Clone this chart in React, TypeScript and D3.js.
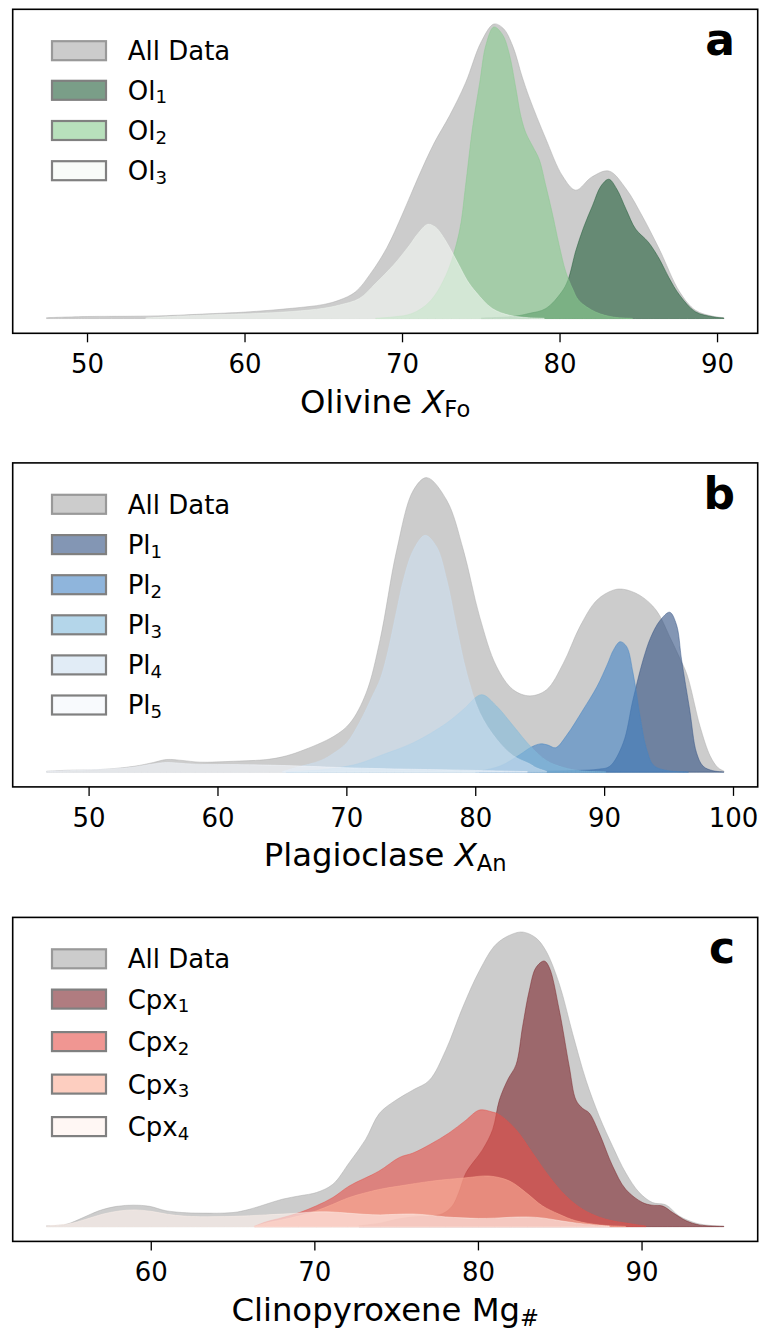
import React from 'react';
import * as d3 from 'd3';

type Pt = [number, number];

// KDE curves: [composition, density], All Data peak = 100

// Olivine X_Fo
const olivineAll: Pt[] = [
  [47.4, 0.3], [50, 0.7], [53, 0.8], [55, 1.0], [58, 1.7], [60, 2.2], [63, 3.5], [65, 4.8], [66, 6.3],
  [67, 9], [68, 15.5], [69, 24], [70, 35.5], [71, 48], [72, 59.5], [73, 69], [74, 80], [75, 94],
  [75.8, 100], [76.4, 98.5], [77, 92.5], [77.6, 82], [78.05, 75], [79.1, 61], [80.16, 48.4], [81, 43.6],
  [82, 48], [83.1, 50.1], [84.2, 44], [85.2, 35], [86.3, 23.6], [87.6, 9], [88.6, 2.8], [89.7, 0.8], [90.4, 0.3],
];
const olivine1: Pt[] = [
  [75, 0.2], [77, 0.7], [78, 1.7], [79.1, 3.4], [80.1, 9], [80.5, 13], [81, 23], [81.5, 31], [82.06, 38.3],
  [82.6, 45], [83.1, 47.3], [83.6, 44], [84.2, 37], [84.8, 30.4], [85.6, 26], [86.3, 20.3], [86.9, 14],
  [87.6, 7.9], [88.6, 2.3], [89.7, 0.6], [90.4, 0.2],
];
const olivine2: Pt[] = [
  [68.3, 0.1], [69.5, 0.6], [70.6, 1.7], [71.7, 5.6], [72.75, 14.6], [73.6, 29.3], [74, 45], [74.45, 65],
  [74.9, 80], [75.3, 93], [75.8, 99], [76.35, 96.4], [76.77, 90], [77.2, 78], [77.5, 69], [77.83, 63],
  [78.26, 58.5], [78.68, 54], [79.1, 45], [79.5, 36], [79.95, 24.8], [80.37, 15.8], [80.8, 10.1],
  [81.2, 6.1], [82.27, 2.2], [83.4, 0.5], [84.6, 0.1],
];
const olivine3: Pt[] = [
  [53.7, 0.2], [55, 0.6], [58, 1.3], [60, 1.6], [63, 2.4], [65, 3.5], [66, 4.6], [67.26, 6.8], [68.3, 12],
  [69.4, 18], [70.43, 24.8], [71, 29], [71.6, 32], [72.1, 31], [72.55, 28], [73.1, 23], [73.6, 18],
  [74.1, 13], [74.66, 9], [75.7, 3.4], [76.8, 1.1], [78, 0.3], [79, 0.1],
];

// Plagioclase X_An
const plagAll: Pt[] = [
  [46.7, 0.3], [48, 0.6], [50.9, 0.9], [53.5, 2.0], [55, 3.3], [56, 4.3], [57.2, 4.0], [58.6, 3.4],
  [61.2, 3.7], [63.8, 4.3], [65, 5.2], [66.4, 7.1], [69, 12.2], [70.25, 16.7], [71.5, 26.9], [72.58, 45],
  [73.87, 75.4], [75.16, 95.7], [76.2, 100], [77.75, 92.3], [79.04, 75.4], [80.3, 52.8], [81.6, 36],
  [82.9, 28], [84.2, 25.9], [85.5, 28], [86.8, 37], [88.08, 49.4], [89.4, 58.4], [90.67, 61.8],
  [91.45, 62.1], [92.74, 60], [94.0, 55], [95.05, 46], [95.8, 39], [96.4, 33], [97.4, 15.6], [98.2, 5.4],
  [98.8, 1.5], [99.25, 0.4],
];
const plag1: Pt[] = [
  [80.3, 0.1], [85, 0.3], [88, 0.6], [89.5, 1.0], [90.4, 2.0], [91.44, 9.9], [92.2, 24.6], [92.99, 38.2],
  [93.6, 46], [94.3, 51.5], [95.05, 54.3], [95.58, 50], [95.97, 38.2], [96.6, 21.2], [97.13, 6.6],
  [97.65, 2.0], [98.4, 0.5], [99.25, 0.1],
];
const plag2: Pt[] = [
  [80, 0.1], [81.9, 2.1], [83.44, 6.0], [84.3, 8.5], [85.0, 9.6], [85.6, 9.2], [86.2, 8.3], [87.05, 12.5],
  [88.3, 21], [89.4, 29], [90.2, 36.5], [90.7, 41.6], [91.2, 44.3], [91.7, 42.7], [92.2, 33.8],
  [92.74, 19.2], [93.25, 7.9], [93.8, 2.3], [94.8, 0.6], [96.5, 0.1],
];
const plag3: Pt[] = [
  [65.3, 0.1], [68, 0.8], [70, 2], [71, 3], [72.58, 5.6], [75.16, 10], [77.75, 16.7], [79.04, 21.3],
  [80.45, 26.3], [81.6, 22.5], [82.9, 15.8], [84.2, 9], [85.5, 3.9], [86.8, 1.6], [88.08, 0.5], [90.1, 0.1],
];
const plag4: Pt[] = [
  [65, 0.2], [66, 1.5], [68, 4], [69, 6.5], [70, 10], [71, 17], [72, 26], [72.58, 31.5], [73.1, 39.4],
  [73.87, 55], [74.39, 65.3], [75.16, 75.4], [76.07, 80.4], [76.96, 76.5], [77.75, 65.3], [78.5, 49.5],
  [79.3, 33.7], [80.3, 20.3], [81.6, 11.3], [82.9, 5.6], [84.2, 2.8], [84.7, 1.5], [85.5, 0.3],
];
const plag5: Pt[] = [
  [46.7, 0.3], [50, 0.8], [53, 1.5], [55, 2.8], [56, 3.3], [57.5, 2.9], [59, 2.6], [61, 2.6], [64, 2.4],
  [67, 2.0], [70, 1.5], [75, 1.0], [80, 0.6], [84, 0.2],
];

// Clinopyroxene Mg#
const cpxAll: Pt[] = [
  [53.6, 0.3], [54.8, 0.8], [55.8, 3], [56.8, 5.4], [57.9, 6.9], [58.9, 7.3], [59.9, 6.9], [60.9, 5.4],
  [61.9, 4.8], [63, 4.6], [65, 4.8], [66, 5.9], [67, 7.6], [68, 9.3], [69.1, 10.5], [70.1, 11.6],
  [71.1, 14.4], [72.1, 21.7], [73.1, 29.6], [73.95, 38.5], [74.97, 43], [76, 46.4], [77, 49.7], [78, 59.9],
  [79.04, 74.5], [80.06, 86.9], [81.08, 95.9], [82.1, 99.4], [82.74, 100], [83.52, 98], [84.13, 93.6],
  [84.94, 82.4], [85.76, 65.5], [86.57, 49.8], [87.39, 37.4], [88.2, 27.3], [89.0, 18.3], [89.83, 11.6],
  [90.64, 8.2], [91.46, 7.4], [92.28, 3.6], [93.3, 1.2], [94.2, 0.4], [95, 0.2],
];
const cpx1: Pt[] = [
  [72.7, 0.3], [74, 1.2], [75, 2.5], [76, 3.3], [77, 3.6], [77.8, 4.4], [78.4, 7], [78.8, 11.6],
  [79.24, 18.3], [80.26, 26.2], [80.87, 33], [81.28, 43], [81.8, 50], [82.3, 55], [82.7, 68], [83.1, 80],
  [83.52, 88], [84.02, 90.2], [84.33, 88], [84.94, 73.5], [85.55, 54.4], [85.96, 43], [86.36, 40.2],
  [86.77, 38.6], [87.38, 31.8], [88.2, 20.6], [89.0, 12.7], [90.03, 8.2], [90.6, 7.3], [91.26, 7.0],
  [91.87, 4.8], [92.7, 2.0], [93.5, 0.6], [95, 0.1],
];
const cpx2: Pt[] = [
  [66.3, 0.1], [67, 1.6], [68.05, 3.1], [69.07, 4.8], [70.1, 7.1], [71.1, 9.9], [72.1, 13.8], [73.9, 18.8],
  [75.17, 23.5], [76, 25], [77, 27.8], [78.2, 31.8], [79.2, 36], [80.06, 39.6], [80.8, 39], [81.28, 38],
  [82.3, 32.9], [83.3, 25.1], [84.3, 17.2], [85.35, 10.4], [86.37, 5.9], [87.4, 3.2], [88.2, 2.0],
  [89.4, 0.9], [90.24, 0.2],
];
const cpx3: Pt[] = [
  [66.3, 0.1], [67, 1.2], [68.05, 2.4], [69.07, 3.7], [70.1, 5.4], [71.1, 7.6], [72.1, 9.9], [73.9, 12.6],
  [75.17, 13.8], [77.2, 15.5], [79.24, 16.6], [80.66, 17.2], [81.9, 15.5], [82.9, 11.6], [83.9, 7.1],
  [84.9, 4.3], [85.96, 2.0], [87.4, 0.6], [89, 0.1],
];
const cpx4: Pt[] = [
  [53.6, 0.3], [55, 1.0], [56, 2.5], [57, 4.2], [58, 5.3], [59, 5.7], [60, 5.2], [61, 4.2], [62, 3.6],
  [63, 3.4], [65, 3.5], [67, 4.0], [69, 4.6], [70, 5.0], [71, 5.0], [72, 4.6], [73, 4.2], [74, 4.0],
  [75, 4.2], [76, 4.3], [77, 3.9], [78, 3.3], [79, 3.0], [80, 2.8], [81, 2.9], [82, 3.2], [83, 3.3],
  [84, 2.9], [85, 2.0], [86, 1.2], [87, 0.6], [88, 0.2],
];

const olivineTicks = [50, 60, 70, 80, 90];
const plagTicks = [50, 60, 70, 80, 90, 100];
const cpxTicks = [60, 70, 80, 90];

const olivineNames = ['All Data', 'Ol', 'Ol', 'Ol'];
const plagNames = ['All Data', 'Pl', 'Pl', 'Pl', 'Pl', 'Pl'];
const cpxNames = ['All Data', 'Cpx', 'Cpx', 'Cpx', 'Cpx'];

const grey = 'rgb(170,170,170)';
const olivineColors = [grey, 'rgb(33,93,57)', 'rgb(137,203,143)', 'rgb(243,248,243)'];
const plagColors = [grey, 'rgb(48,80,130)', 'rgb(68,132,197)', 'rgb(130,187,220)', 'rgb(205,223,240)', 'rgb(243,247,252)'];
const cpxColors = [grey, 'rgb(123,37,43)', 'rgb(230,80,73)', 'rgb(252,173,150)', 'rgb(255,242,237)'];

const FONT = 'DejaVu Sans';
const LEFT = 12.7;
const RIGHT = 757.7;
const PH = 324;
const ALPHA = 0.6;

type PanelProps = {
  top: number;
  letter: string;
  curves: Pt[][];
  names: string[];
  colors: string[];
  ticks: number[];
  label: React.ReactNode;
  firstGap: number;
  gap: number;
};

const Panel = ({ top, letter, curves, names, colors, ticks, label, firstGap, gap }: PanelProps) => {
  const bottom = top + PH;
  const pts = curves.flat();
  const [lo, hi] = d3.extent(pts, (d) => d[0]) as [number, number];
  const pad = (hi - lo) * 0.05;
  const x = d3.scaleLinear().domain([lo - pad, hi + pad]).range([LEFT, RIGHT]);
  const ymax = d3.max(pts, (d) => d[1]) as number;
  const y = d3.scaleLinear().domain([-0.05 * ymax, 1.05 * ymax]).range([bottom, top]);

  // smooth curve through the read points; clamp so tails never dip under the baseline
  const area = d3
    .area<Pt>()
    .x((d) => x(d[0]))
    .y0(y(0))
    .y1((d) => y(d[1]))
    .curve(d3.curveCatmullRom.alpha(0.5));

  return (
    <g>
      <defs>
        <clipPath id={`clip-${letter}`}>
          <rect x={LEFT} y={top} width={RIGHT - LEFT} height={y(0) - top + 1} />
        </clipPath>
      </defs>
      <g clipPath={`url(#clip-${letter})`}>
        {curves.map((c, i) => (
          <path
            key={i}
            d={area(c) as string}
            fill={colors[i]}
            fillOpacity={ALPHA}
            stroke={colors[i]}
            strokeOpacity={ALPHA}
            strokeWidth={0.8}
          />
        ))}
      </g>

      {/* legend */}
      {names.map((n, i) => {
        const cy = top + 41.4 + (i === 0 ? 0 : firstGap + (i - 1) * gap);
        return (
          <g key={i}>
            <rect
              x={52}
              y={cy - 9.5}
              width={54}
              height={19}
              fill={colors[i]}
              fillOpacity={ALPHA}
              stroke={i === 0 ? '#999999' : '#808080'}
              strokeWidth={2.2}
            />
            <text x={127.7} y={cy + 9.4} fontSize={26} fontFamily={FONT}>
              {n}
              {i > 0 && (
                <tspan fontSize={18.2} dy={3.6}>
                  {i}
                </tspan>
              )}
            </text>
          </g>
        );
      })}

      <text x={735} y={top + 46} fontSize={44} fontWeight="bold" fontFamily={FONT} textAnchor="end">
        {letter}
      </text>

      <rect x={LEFT} y={top} width={RIGHT - LEFT} height={PH} fill="none" stroke="#000" strokeWidth={1.6} />

      {ticks.map((t) => (
        <g key={t}>
          <line x1={x(t)} x2={x(t)} y1={bottom} y2={bottom + 9} stroke="#000" strokeWidth={1.3} />
          <text x={x(t)} y={bottom + 40} fontSize={26} fontFamily={FONT} textAnchor="middle">
            {t}
          </text>
        </g>
      ))}

      <text x={(LEFT + RIGHT) / 2} y={bottom + 79.5} fontSize={32.3} fontFamily={FONT} textAnchor="middle">
        {label}
      </text>
    </g>
  );
};

const sub = (s: string) => (
  <tspan fontSize={22.6} dy={4.6}>
    {s}
  </tspan>
);

export default function App() {
  return (
    <svg
      width={760}
      height={1332}
      style={{ position: 'absolute', left: 0, top: 0, background: '#fff' }}
    >
      <rect width={760} height={1332} fill="#fff" />
      <Panel
        top={9.3}
        letter="a"
        curves={[olivineAll, olivine1, olivine2, olivine3]}
        names={olivineNames}
        colors={olivineColors}
        ticks={olivineTicks}
        firstGap={39.6}
        gap={40.2}
        label={
          <>
            <tspan>Olivine </tspan>
            <tspan fontStyle="italic">X</tspan>
            {sub('Fo')}
          </>
        }
      />
      <Panel
        top={462.9}
        letter="b"
        curves={[plagAll, plag1, plag2, plag3, plag4, plag5]}
        names={plagNames}
        colors={plagColors}
        ticks={plagTicks}
        firstGap={40.3}
        gap={40.1}
        label={
          <>
            <tspan>Plagioclase </tspan>
            <tspan fontStyle="italic">X</tspan>
            {sub('An')}
          </>
        }
      />
      <Panel
        top={917.4}
        letter="c"
        curves={[cpxAll, cpx1, cpx2, cpx3, cpx4]}
        names={cpxNames}
        colors={cpxColors}
        ticks={cpxTicks}
        firstGap={40.3}
        gap={42.5}
        label={
          <>
            <tspan>Clinopyroxene Mg</tspan>
            {sub('#')}
          </>
        }
      />
    </svg>
  );
}
